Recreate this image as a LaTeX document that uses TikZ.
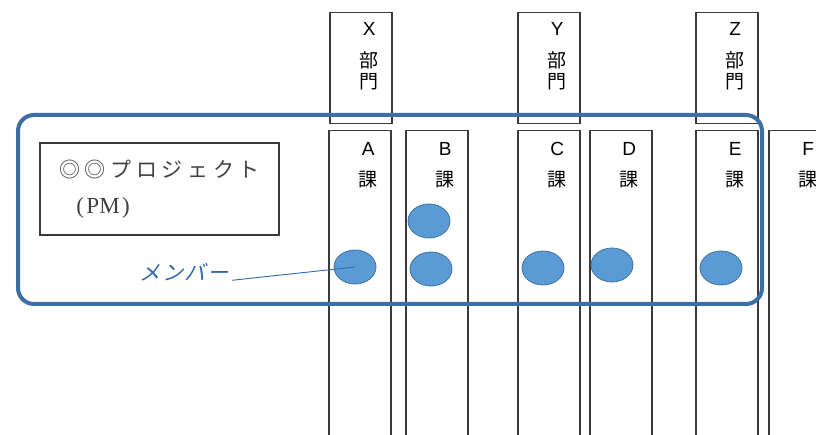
\documentclass[tikz,border=0pt]{standalone}
\usepackage{fontspec}
\setmainfont{Liberation Serif}
\setsansfont{Liberation Sans}
\newfontfamily\jpsans{Noto Sans CJK JP}
\newfontfamily\jpwide[LetterSpace=22]{Noto Sans CJK JP}
\newfontfamily\jpslant[FakeSlant=0.25,LetterSpace=8]{Noto Sans CJK JP}
\usepackage{xcolor}
\usetikzlibrary{shapes.geometric, positioning}
\definecolor{waku}{HTML}{3A3A3A}
\definecolor{bleu}{HTML}{3B6FA6}
\definecolor{membre}{HTML}{5B9BD5}
\definecolor{membrebord}{HTML}{41719C}
\definecolor{etiq}{HTML}{2F6AAE}
\definecolor{texte}{HTML}{404040}
\tikzset{
  bumon/.style={rectangle, draw=waku, line width=1.5pt, anchor=north west,
    minimum width=62pt, minimum height=111pt, inner sep=0pt},
  ka/.style={bumon, minimum height=330pt},
  midashi/.style={anchor=north, align=center, inner sep=0pt, xshift=8.5pt,
    yshift=-9pt, font=\fontsize{19}{21}\selectfont\sffamily},
  pmbox/.style={rectangle, draw=waku, line width=1.5pt, minimum width=239pt,
    minimum height=92pt, align=left, text=texte},
  projet/.style={rectangle, rounded corners=16pt, draw=bleu, line width=4pt,
    minimum width=744pt, minimum height=189pt},
  member/.style={ellipse, fill=membre, draw=membrebord, line width=0.8pt,
    minimum width=42pt, minimum height=34pt},
  memlabel/.style={font=\jpslant\fontsize{21}{22}\selectfont, text=etiq},
  lien/.style={draw=etiq, line width=0.9pt}
}
\newcommand{\butxt}[1]{#1\\[11pt]\jpsans 部\\\jpsans 門}
\newcommand{\katxt}[1]{#1\\[10pt]\jpsans 課}

\begin{document}
\begin{tikzpicture}[x=1pt, y=-1pt]
  \clip (0,0) rectangle (816,435);
  \fill[white] (0,0) rectangle (816,435);

  % departments
  \node[bumon, label={[midashi, yshift=-1pt]north:\butxt{X}}] (depX) at (329,12) {};
  \node[bumon, label={[midashi, yshift=-1pt]north:\butxt{Y}}] (depY) at (517,12) {};
  \node[bumon, label={[midashi, yshift=-1pt]north:\butxt{Z}}] (depZ) at (695,12) {};

  % sections
  \node[ka, label={[midashi, yshift=-3pt]north:\katxt{A}}] (kaA) at (328,130) {};
  \node[ka, label={[midashi, yshift=-3pt]north:\katxt{B}}] (kaB) at (405,130) {};
  \node[ka, label={[midashi, yshift=-3pt]north:\katxt{C}}] (kaC) at (517,130) {};
  \node[ka, label={[midashi, yshift=-3pt]north:\katxt{D}}] (kaD) at (589,130) {};
  \node[ka, label={[midashi, yshift=-3pt]north:\katxt{E}}] (kaE) at (695,130) {};
  \node[ka, label={[midashi, yshift=-3pt]north:\katxt{F}}] (kaF) at (768,130) {};

  % project
  \node[projet] (proj) at (390,209.5) {};
  \node[pmbox] (pm) at (159.5,189) {{\jpwide\fontsize{21}{22}\selectfont ◎◎プロジェクト}\\[18pt]
    \hspace{17pt}{\fontsize{23}{23}\selectfont (\kern2.5pt PM\kern2.5pt)}};

  % members
  \node[member] (mA) at (355,267) {};
  \node[member] (mB1) at (429,221) {};
  \node[member] (mB2) at (431,269) {};
  \node[member] (mC) at (543,268) {};
  \node[member] (mD) at (612,265) {};
  \node[member] (mE) at (721,268) {};

  \node[memlabel] (lblMember) at (184,272) {メンバー};
  \draw[lien] (lblMember.base east) -- (mA.center);
\end{tikzpicture}
\end{document}
